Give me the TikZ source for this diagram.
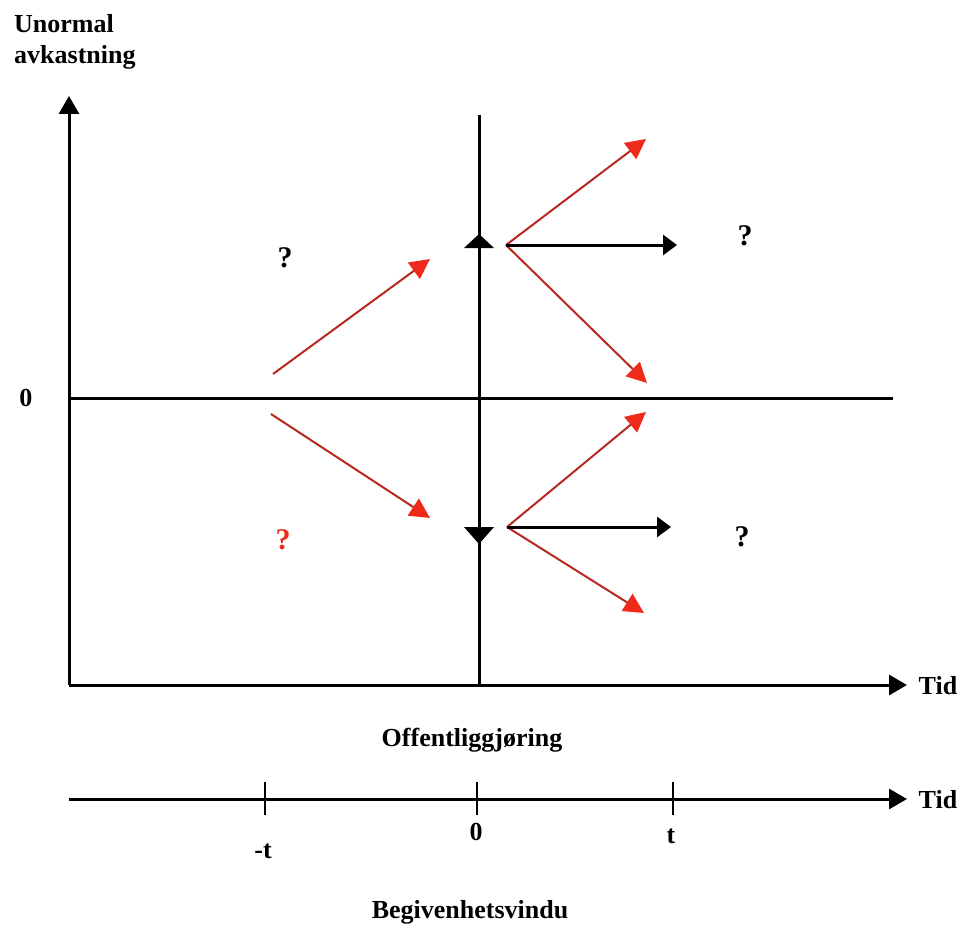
\documentclass[tikz,border=0pt]{standalone}
\usepackage{fontspec}
\setmainfont{Liberation Serif}
\usetikzlibrary{arrows.meta}
\definecolor{redline}{HTML}{B8281E}
\definecolor{redhead}{HTML}{EE2A1A}
\tikzset{
  axis/.style={line width=3pt, -{Triangle[length=18pt,width=20pt]}},
  plain/.style={line width=3pt},
  tick/.style={line width=2.2pt},
  redarrow/.style={line width=2pt, redline, -{Triangle[length=20pt,width=20pt,color=redhead]}},
  blackarrow/.style={line width=3pt, -{Triangle[length=14pt,width=20pt]}},
  lbl/.style={font=\bfseries\fontsize{26}{31}\selectfont, inner sep=0pt},
  qm/.style={font=\bfseries\fontsize{30}{34}\selectfont, inner sep=0pt},
}
\begin{document}
\begin{tikzpicture}[x=1pt,y=-1pt]
\useasboundingbox (0,0) rectangle (973,928);
% axes
\coordinate (O) at (69,685);
\coordinate (ytop) at (69,96);
\coordinate (xend) at (907,685);
\coordinate (z0) at (69,398);
\coordinate (z1) at (893,398);
\coordinate (v0) at (479,115);
\coordinate (v1) at (479,685);
\draw[axis] (O) -- (ytop);
\draw[axis] (O) -- (xend);
\draw[plain] (z0) -- (z1);
\draw[plain] (v0) -- (v1);
% triangles on vertical line
\fill (479,234) -- (494,248) -- (464,248) -- cycle;
\fill (479,544) -- (494,527) -- (464,527) -- cycle;
% red arrows left
\coordinate (a1) at (273,374);
\coordinate (a2) at (430,259);
\coordinate (b1) at (271,414);
\coordinate (b2) at (430,518);
\draw[redarrow] (a1) -- (a2);
\draw[redarrow] (b1) -- (b2);
% upper fan
\coordinate (u0) at (506,245);
\coordinate (u1) at (646,139);
\coordinate (u2) at (647,383);
\coordinate (u3) at (677,245);
\draw[redarrow] (u0) -- (u1);
\draw[redarrow] (u0) -- (u2);
\draw[blackarrow] (u0) -- (u3);
% lower fan
\coordinate (d0) at (507,527);
\coordinate (d1) at (646,412);
\coordinate (d2) at (644,613);
\coordinate (d3) at (671,527);
\draw[redarrow] (d0) -- (d1);
\draw[redarrow] (d0) -- (d2);
\draw[blackarrow] (d0) -- (d3);
% labels
\node[lbl, align=left, anchor=north west] (yl) at (14,14) {Unormal\\avkastning};
\node[lbl] (zero) at (26,398) {0};
\node[lbl] (tid1) at (938,686) {Tid};
\node[qm] (q1) at (285,258) {?};
\node[qm] (q2) at (745,236) {?};
\node[qm, redhead] (q3) at (283,540) {?};
\node[qm] (q4) at (742,537) {?};
\node[lbl] (off) at (472,740) {Offentliggjøring};
% timeline
\coordinate (t0) at (69,799);
\coordinate (t1) at (907,799);
\draw[axis] (t0) -- (t1);
\draw[tick] (265,782) -- (265,815);
\draw[tick] (477,782) -- (477,815);
\draw[tick] (673,782) -- (673,815);
\node[lbl] (tid2) at (938,800) {Tid};
\node[lbl] (mt) at (263,851) {-t};
\node[lbl] (t0l) at (476,832) {0};
\node[lbl] (tl) at (671,836) {t};
\node[lbl] (beg) at (470,912) {Begivenhetsvindu};
\end{tikzpicture}
\end{document}
